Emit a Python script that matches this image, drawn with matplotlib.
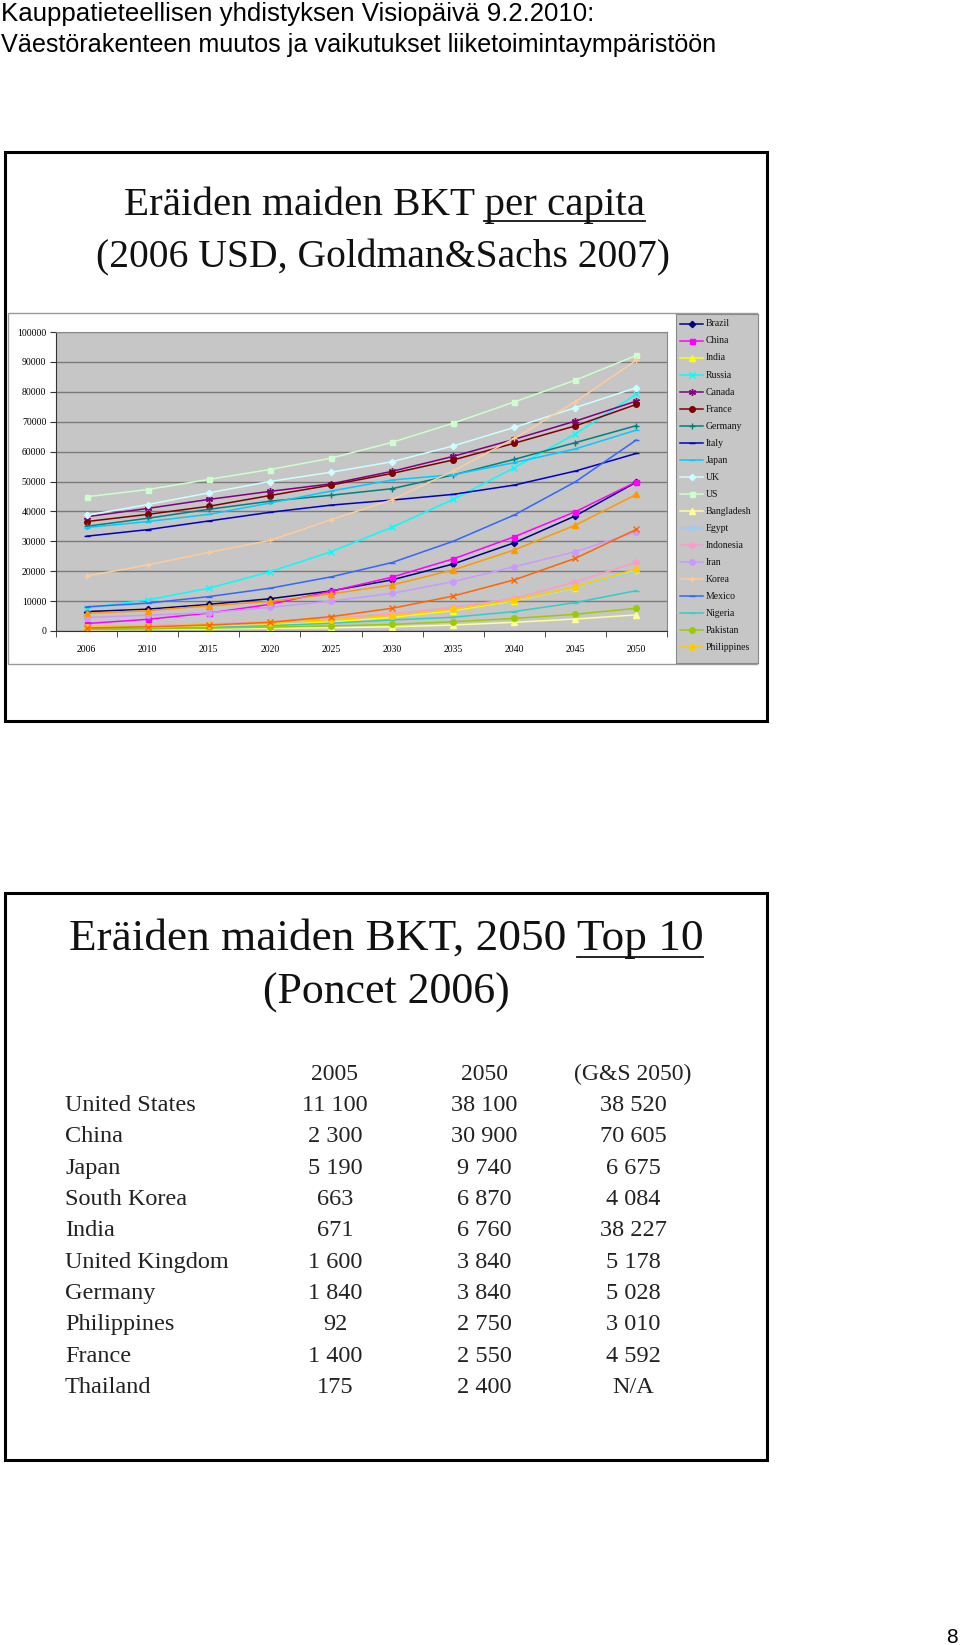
import matplotlib
matplotlib.use("Agg")
import matplotlib.pyplot as plt
import numpy as np
from matplotlib.patches import Rectangle
from matplotlib.lines import Line2D

# --- chart data (GDP per capita, 2006 USD) ---
years = ["2006", "2010", "2015", "2020", "2025", "2030", "2035", "2040", "2045", "2050"]

brazil = [6500, 7300, 8900, 10800, 13400, 17100, 22400, 29500, 38500, 49800]
china = [2500, 3900, 6000, 8900, 13300, 18000, 24100, 31500, 39900, 49900]
india = [800, 1000, 1400, 2000, 3000, 4600, 6800, 10100, 14400, 20400]
russia = [7700, 10400, 14300, 19800, 26500, 34700, 44000, 54600, 65900, 79200]
canada = [38200, 41000, 44000, 46700, 49200, 53400, 58400, 64100, 70200, 76900]
france = [36600, 39000, 41700, 45300, 48800, 52700, 57200, 62800, 68600, 75800]
germany = [35000, 37700, 40700, 43400, 45400, 47600, 52200, 57400, 63000, 68700]
italy = [31700, 33900, 36800, 39700, 42100, 43800, 45700, 48800, 53500, 59400]
japan = [34600, 36600, 39000, 42800, 46800, 50500, 52300, 56300, 60900, 67200]
uk = [38700, 42300, 46200, 50000, 53100, 56600, 61900, 68100, 74700, 81400]
us = [44900, 47300, 50700, 54000, 57800, 63100, 69500, 76600, 83900, 92200]
bangladesh = [400, 550, 700, 900, 1100, 1400, 2000, 2900, 4000, 5400]
egypt = [1300, 1600, 2200, 3000, 4000, 5400, 7400, 10300, 14500, 20000]
indonesia = [1400, 1800, 2300, 3100, 4200, 5700, 7900, 10900, 16400, 23000]
iran = [4500, 5300, 6100, 7900, 10000, 12600, 16500, 21500, 26500, 33200]
korea = [18400, 22100, 26300, 30300, 37200, 43900, 53500, 64400, 76700, 90600]
mexico = [8100, 9300, 11500, 14300, 18100, 22900, 30000, 38800, 49900, 63900]
nigeria = [600, 800, 1200, 1800, 2600, 3700, 4600, 6500, 9500, 13500]
pakistan = [600, 750, 950, 1300, 1700, 2200, 3100, 4200, 5600, 7600]
philippines = [1300, 1600, 2100, 2700, 3800, 5100, 7200, 10400, 14800, 20700]
turkey = [5900, 6800, 8400, 9900, 12400, 15400, 20400, 27100, 35400, 45700]
vietnam = [1000, 1400, 2000, 2900, 4800, 7600, 11700, 17100, 24300, 34000]

names = ["Brazil", "China", "India", "Russia", "Canada", "France", "Germany",
         "Italy", "Japan", "UK", "US", "Bangladesh", "Egypt", "Indonesia",
         "Iran", "Korea", "Mexico", "Nigeria", "Pakistan", "Philippines",
         "Turkey", "Vietnam"]
series = [brazil, china, india, russia, canada, france, germany, italy, japan,
          uk, us, bangladesh, egypt, indonesia, iran, korea, mexico, nigeria,
          pakistan, philippines, turkey, vietnam]

# --- table data ---
table_header = ["2005", "2050", "(G&S 2050)"]
table_countries = ["United States", "China", "Japan", "South Korea", "India",
                   "United Kingdom", "Germany", "Philippines", "France", "Thailand"]
gdp_2005 = ["11 100", "2 300", "5 190", "663", "671", "1 600", "1 840", "92", "1 400", "175"]
gdp_2050 = ["38 100", "30 900", "9 740", "6 870", "6 760", "3 840", "3 840", "2 750", "2 550", "2 400"]
gdp_gs = ["38 520", "70 605", "6 675", "4 084", "38 227", "5 178", "5 028", "3 010", "4 592", "N/A"]

# Excel 2003 style line colours / markers
colors = ["#000080", "#FF00FF", "#FFFF00", "#00FFFF", "#800080", "#800000",
          "#008080", "#0000C0", "#00CCFF", "#CCFFFF", "#CCFFCC", "#FFFF99",
          "#99CCFF", "#FF99CC", "#CC99FF", "#FFCC99", "#3366FF", "#33CCCC",
          "#99CC00", "#FFCC00", "#FF9900", "#FF6600"]
asterisk = (6, 2, 0)
markers = ["D", "s", "^", "x", asterisk, "o", "+", "_", "_", "D", "s", "^",
           "x", asterisk, "o", "+", "_", "_", "o", "o", "^", "x"]
msizes = [3.2, 3.6, 4, 4, 5, 4, 5, 4, 5, 3.2, 3.6, 4, 4, 5, 4, 5, 4, 5, 4, 4, 4, 4]

SERIF = ["Liberation Serif", "DejaVu Serif"]
SANS = ["Liberation Sans", "DejaVu Sans"]
W, H = 960, 1645
PLOT_BG = "#C6C6C6"


def fx(px):
    return px / W


def fy(py):
    return 1 - py / H


fig = plt.figure(figsize=(W / 100, H / 100), dpi=100)
fig.patch.set_facecolor("white")
renderer = fig.canvas.get_renderer()


def fitted_text(x, y, s, width, **kw):
    t = fig.text(fx(x), fy(y), s, **kw)
    w = t.get_window_extent(renderer).width
    t.set_fontsize(t.get_fontsize() * width / w)
    return t


def underline(t, part, y, lw=1.3):
    bb = t.get_window_extent(renderer)
    tmp = fig.text(0, 0, part, fontproperties=t.get_fontproperties())
    w = tmp.get_window_extent(renderer).width
    tmp.remove()
    fig.add_artist(Line2D([(bb.x1 - w) / W, bb.x1 / W], [fy(y), fy(y)],
                          transform=fig.transFigure, color="#111111", lw=lw))


# header
fitted_text(1, 21, "Kauppatieteellisen yhdistyksen Visiopäivä 9.2.2010:", 595,
            ha="left", va="baseline", family=SANS, fontsize=16)
fitted_text(1, 52, "Väestörakenteen muutos ja vaikutukset liiketoimintaympäristöön", 717,
            ha="left", va="baseline", family=SANS, fontsize=16)

# slide boxes
for top, bottom in [(152, 721), (893, 1460)]:
    fig.add_artist(Rectangle((fx(5), fy(bottom)), fx(767) - fx(5), (bottom - top) / H,
                             transform=fig.transFigure, fill=False, ec="black", lw=2.2))

# box 1 titles
t1 = fitted_text(384, 215, "Eräiden maiden BKT per capita", 520,
                 ha="center", va="baseline", family=SERIF, fontsize=28, color="#111111")
underline(t1, "per capita", 221)
fitted_text(383, 267, "(2006 USD, Goldman&Sachs 2007)", 574,
            ha="center", va="baseline", family=SERIF, fontsize=28, color="#111111")

# chart frame
fig.add_artist(Rectangle((fx(8), fy(664)), fx(757) - fx(8), (664 - 313) / H,
                         transform=fig.transFigure, fc="white", ec="#9a9a9a", lw=1, zorder=-1))

ax = fig.add_axes([fx(56), fy(631), fx(667) - fx(56), (631 - 332) / H])
ax.set_facecolor(PLOT_BG)
x = np.arange(len(years))
for vals, c, m, ms in zip(series, colors, markers, msizes):
    ax.plot(x, vals, color=c, lw=1.1, marker=m, ms=ms, mfc=c, mec=c, mew=1.0)

ax.set_xlim(-0.5, len(years) - 0.5)
ax.set_ylim(0, 100000)
ax.set_yticks(np.arange(0, 100001, 10000))
ax.yaxis.grid(True, color="#7a7a7a", lw=1)
ax.set_axisbelow(True)
ax.set_xticks(x)
ax.set_xticklabels(years)
ax.set_xticks(np.arange(-0.5, len(years), 1), minor=True)
ax.tick_params(axis="x", which="major", length=0, pad=10, labelsize=7)
ax.tick_params(axis="x", which="minor", length=4, color="#333333")
ax.tick_params(axis="y", length=4, pad=3, labelsize=7, color="#333333")
for lab in ax.get_xticklabels() + ax.get_yticklabels():
    lab.set_family(SERIF)
for side in ["left", "bottom"]:
    ax.spines[side].set_color("#333333")
    ax.spines[side].set_linewidth(0.8)
for side in ["top", "right"]:
    ax.spines[side].set_color("#8a8a8a")
    ax.spines[side].set_linewidth(0.8)

# legend (first 20 series, as in the original)
lax = fig.add_axes([fx(676), fy(663), fx(758) - fx(676), (663 - 314) / H])
lax.set_facecolor(PLOT_BG)
lax.set_xlim(0, 82)
lax.set_ylim(19.94, -0.588)
lax.set_xticks([])
lax.set_yticks([])
for s in lax.spines.values():
    s.set_color("#8a8a8a")
    s.set_linewidth(0.8)
for i in range(20):
    c = colors[i]
    lax.plot([4, 27], [i, i], color=c, lw=1.1)
    lax.plot([15.5], [i], color=c, marker=markers[i], ms=msizes[i], mfc=c, mec=c, mew=1.0)
    lax.text(30, i, names[i], va="center", ha="left", fontsize=7, family=SERIF, color="#111111")

# box 2 titles
t2 = fitted_text(386, 950, "Eräiden maiden BKT, 2050 Top 10", 634,
                 ha="center", va="baseline", family=SERIF, fontsize=30, color="#111111")
underline(t2, "Top 10", 957)
fitted_text(386, 1004, "(Poncet 2006)", 247,
            ha="center", va="baseline", family=SERIF, fontsize=30, color="#111111")

# table
col_x = [335, 484, 633]
for cx, head in zip(col_x, table_header):
    fig.text(fx(cx), fy(1080), head, ha="center", va="baseline",
             family=SERIF, fontsize=17, color="#222222")
for i, name in enumerate(table_countries):
    yb = 1111 + 31.35 * i
    fig.text(fx(65), fy(yb), name, ha="left", va="baseline",
             family=SERIF, fontsize=17.5, color="#222222")
    for cx, v in zip(col_x, [gdp_2005[i], gdp_2050[i], gdp_gs[i]]):
        fig.text(fx(cx), fy(yb), v, ha="center", va="baseline",
                 family=SERIF, fontsize=17.5, color="#222222")

# page number
fig.text(fx(946), fy(1643), "8", ha="left", va="baseline", family=SANS, fontsize=15)

fig.savefig("out.png", dpi=100, facecolor="white")
plt.close(fig)
